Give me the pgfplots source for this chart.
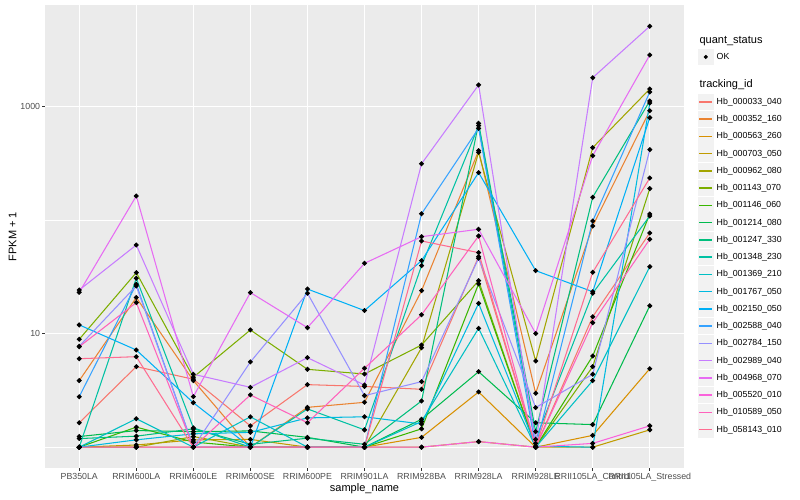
\documentclass[border=0pt]{standalone}
\usepackage{pgfplots}
\pgfplotsset{compat=1.18}
\usepackage{pgfplotstable}
\usepackage{fontspec}
\setmainfont{Liberation Sans}

% ggplot hue palette, 20 levels
\definecolor{c1}{HTML}{F8766D}
\definecolor{c2}{HTML}{EA8331}
\definecolor{c3}{HTML}{D89000}
\definecolor{c4}{HTML}{C09B00}
\definecolor{c5}{HTML}{A3A500}
\definecolor{c6}{HTML}{7CAE00}
\definecolor{c7}{HTML}{39B600}
\definecolor{c8}{HTML}{00BB4E}
\definecolor{c9}{HTML}{00BF7D}
\definecolor{c10}{HTML}{00C1A3}
\definecolor{c11}{HTML}{00BFC4}
\definecolor{c12}{HTML}{00BAE0}
\definecolor{c13}{HTML}{00B0F6}
\definecolor{c14}{HTML}{35A2FF}
\definecolor{c15}{HTML}{9590FF}
\definecolor{c16}{HTML}{C77CFF}
\definecolor{c17}{HTML}{E76BF3}
\definecolor{c18}{HTML}{FA62DB}
\definecolor{c19}{HTML}{FF62BC}
\definecolor{c20}{HTML}{FF6C91}
\definecolor{panelbg}{HTML}{EBEBEB}
\definecolor{keybg}{HTML}{F2F2F2}
\definecolor{gray30}{HTML}{4D4D4D}
\definecolor{gray20}{HTML}{333333}

% FPKM + 1, one row per sample, one column per tracking id
\pgfplotstableread{
x  s1    s2   s3   s4    s5   s6    s7    s8   s9   s10  s11  s12  s13  s14  s15  s16  s17   s18  s19   s20
1  1.64  3.85 1    1     1    8.89  1     1.24 1.19 1    1    1    11.9 2.78 7.72 24.1 23.0  1    7.65  6.00
2  5.11  20.7 1    1.045 1    34.3  1.50  1.40 1.25 30.6 1.78 1.16 7.16 27.1 26.2 60.0 162   1    18.7  6.25
3  3.96  3.85 1    1.16  1.24 4.12  1.11  1.37 1.45 1.48 1    1.31 2.46 1    1    4.38 2.78  1    1     1
4  1.54  1    1    1.17  1    10.74 1     1.39 1.06 1    1.85 1.35 1    1    5.62 3.36 22.9  1    2.88  1
5  3.55  2.24 1    1     1    4.84  1     1.22 1.20 2.17 1    1.81 24.6 1    22.6 6.13 11.25 1    1.64  1
6  3.42  2.48 1    1     1    4.40  1     1    1.06 1.42 1    1.85 15.9 1    2.84 3.52 41.4  1    4.94  1
7  3.23  23.8 1.22 1     7.50 7.92  1.45  1.76 2.55 39.5 1.68 1.60 43.7 113  3.77 311  71.0  1    14.6  65.1
8  47.4  405  3.06 1.12  392  29.1  27.3  4.61 706  672  11.1 18.4 260  638  45.9 1533 82.5  1.12 72.0  51.4
9  1     2.98 1    1     5.73 1     1     1.64 1.37 1.17 1    1.02 35.7 1    2.23 1.08 10.0  1    1     1
10 14.05 88.2 1.27 1     431  5.11  6.34  1.58 158  22.6 3.85 1    23.3 97.6 4.38 1777 366   1.08 12.45 34.5
11 76.6  911  4.90 1.42  1414 188   112.5 17.5 1109 108  38.7 1065 791  1330 414  5034 2814  1.54 67.4  233
}\fpkm

\begin{document}
\begin{tikzpicture}
\useasboundingbox (0pt,0pt) rectangle (800pt,500pt);
\begin{axis}[
  at={(45pt,32pt)}, anchor=south west,
  width=639pt, height=463pt, scale only axis,
  ymode=log,
  xmin=0.4, xmax=11.6,
  ymin=0.656, ymax=7745,
  axis background/.style={fill=panelbg},
  axis line style={draw=none},
  grid=both,
  major grid style={white, line width=1.07pt},
  minor grid style={white, line width=0.53pt},
  xtick={1,...,11},
  xticklabels={PB350LA,RRIM600LA,RRIM600LE,RRIM600SE,RRIM600PE,RRIM901LA,RRIM928BA,RRIM928LA,RRIM928LE,RRII105LA\_Control,RRII105LA\_Stressed},
  ytick={10,1000}, yticklabels={10,1000},
  minor ytick={1,100},
  tick pos=left, tick align=outside,
  major tick length=2.75pt, minor tick length=0pt,
  tick style={gray20, line width=1.07pt},
  /pgf/number format/assume math mode=true,
  ticklabel style={font=\fontsize{8.8}{10}\selectfont, text=gray30},
  yticklabel style={inner sep=0pt, xshift=-2pt},
  xticklabel style={inner sep=0pt, yshift=-2.6pt},
  every axis plot/.append style={line width=1.05pt},
  legend image code/.code={
    \path[draw=none, fill=none] (0pt,-8.625pt) rectangle (17pt,8.625pt);
    \fill[keybg, draw=none] (0.4pt,-8.2pt) rectangle (16.6pt,8.2pt);
    \draw[#1, line width=1.4pt] (2pt,0pt) -- (15pt,0pt);},
  legend style={at={(1.0208,0.9065)}, anchor=north west, draw=none, fill=none,
    inner sep=0pt, outer sep=0pt, column sep=2.4pt, row sep=0pt,
    font=\fontsize{8.8}{10}\selectfont,
    nodes={inner sep=0pt, minimum height=17.25pt}},
  legend cell align=left,
]
\addlegendimage{legend image code/.code={
    \path[draw=none, fill=none] (0pt,-8.625pt) rectangle (17pt,8.625pt);
    \fill[keybg, draw=none] (0.4pt,-8.2pt) rectangle (16.6pt,8.2pt);
    \draw[black, mark=*, mark size=1.4pt] plot coordinates {(8.5pt,0pt)};}}
\addlegendentry{OK}
\addlegendimage{legend image code/.code={\path[draw=none, fill=none] (0pt,-13.875pt) rectangle (17pt,13.875pt);}}
\addlegendentry{}

\addplot[c1]  table[x=x,y=s1]{\fpkm};  \addlegendentry{Hb\_000033\_040}
\addplot[c2]  table[x=x,y=s2]{\fpkm};  \addlegendentry{Hb\_000352\_160}
\addplot[c3]  table[x=x,y=s3]{\fpkm};  \addlegendentry{Hb\_000563\_260}
\addplot[c4]  table[x=x,y=s4]{\fpkm};  \addlegendentry{Hb\_000703\_050}
\addplot[c5]  table[x=x,y=s5]{\fpkm};  \addlegendentry{Hb\_000962\_080}
\addplot[c6]  table[x=x,y=s6]{\fpkm};  \addlegendentry{Hb\_001143\_070}
\addplot[c7]  table[x=x,y=s7]{\fpkm};  \addlegendentry{Hb\_001146\_060}
\addplot[c8]  table[x=x,y=s8]{\fpkm};  \addlegendentry{Hb\_001214\_080}
\addplot[c9]  table[x=x,y=s9]{\fpkm};  \addlegendentry{Hb\_001247\_330}
\addplot[c10] table[x=x,y=s10]{\fpkm}; \addlegendentry{Hb\_001348\_230}
\addplot[c11] table[x=x,y=s11]{\fpkm}; \addlegendentry{Hb\_001369\_210}
\addplot[c12] table[x=x,y=s12]{\fpkm}; \addlegendentry{Hb\_001767\_050}
\addplot[c13] table[x=x,y=s13]{\fpkm}; \addlegendentry{Hb\_002150\_050}
\addplot[c14] table[x=x,y=s14]{\fpkm}; \addlegendentry{Hb\_002588\_040}
\addplot[c15] table[x=x,y=s15]{\fpkm}; \addlegendentry{Hb\_002784\_150}
\addplot[c16] table[x=x,y=s16]{\fpkm}; \addlegendentry{Hb\_002989\_040}
\addplot[c17] table[x=x,y=s17]{\fpkm}; \addlegendentry{Hb\_004968\_070}
\addplot[c18] table[x=x,y=s18]{\fpkm}; \addlegendentry{Hb\_005520\_010}
\addplot[c19] table[x=x,y=s19]{\fpkm}; \addlegendentry{Hb\_010589\_050}
\addplot[c20] table[x=x,y=s20]{\fpkm}; \addlegendentry{Hb\_058143\_010}

% points on top of all lines
\pgfplotsinvokeforeach{1,...,20}{
  \addplot[forget plot, only marks, mark=*, mark size=1.9pt, black] table[x=x,y=s#1]{\fpkm};
}
\end{axis}

\node[anchor=base west, font=\fontsize{11}{13}\selectfont] at (696pt,456pt) {quant\_status};
\node[anchor=base west, font=\fontsize{11}{13}\selectfont] at (696pt,412.5pt) {tracking\_id};
\node[rotate=90, font=\fontsize{11}{13}\selectfont] at (12.5pt,263.5pt) {FPKM + 1};
\node[font=\fontsize{11}{13}\selectfont] at (364.5pt,11pt) {sample\_name};
\end{tikzpicture}
\end{document}
